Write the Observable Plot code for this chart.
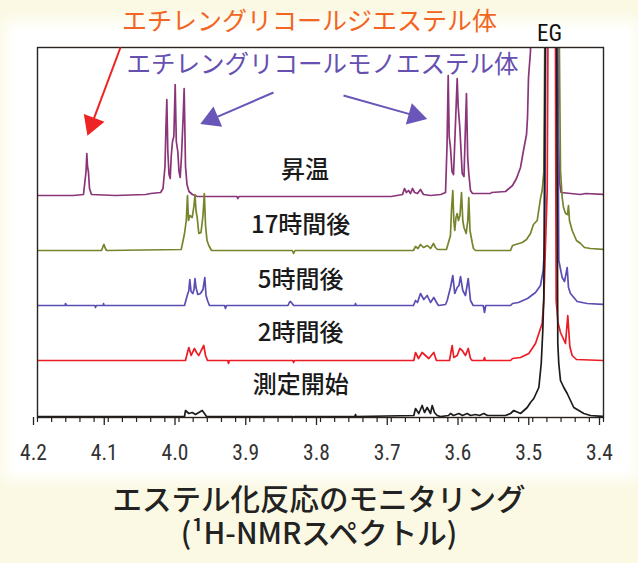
<!DOCTYPE html>
<html>
<head>
<meta charset="utf-8">
<script src="https://cdn.jsdelivr.net/npm/d3@7"></script>
<script src="https://cdn.jsdelivr.net/npm/@observablehq/plot@0.6"></script>
<style>
  html, body { margin: 0; padding: 0; }
  body { width: 638px; height: 563px; background: #fbf9e3; position: relative; overflow: hidden;
         font-family: "Noto Sans CJK JP", sans-serif; }
  #panel { position: absolute; left: 14px; top: 30px; width: 614px; height: 440px; background: #ffffff;
           box-shadow: 0 0 14px 10px #ffffff; }
  #chart { position: absolute; left: 0; top: 0; }
  #title { position: absolute; left: 0; top: 480px; width: 638px; text-align: center; color: #222;
           font-family: "Noto Sans CJK JP", sans-serif; font-weight: 500; font-size: 29.5px;
           line-height: 34px; }
</style>
</head>
<body>
<div id="panel"></div>
<div id="chart"></div>
<div id="title">エステル化反応のモニタリング<br>(¹H-NMRスペクトル)</div>
<script>
// ---------- data (ppm, intensity above each trace's baseline) ----------
const seriesLabels = ["昇温", "17時間後", "5時間後", "2時間後", "測定開始"];

const spectrumHeating = [
  [4.200,1],[4.150,1],[4.135,2],[4.1314,25],[4.1303,43],[4.1293,30],[4.1279,24],[4.1265,8],[4.1237,2],
  [4.090,1],[4.047,2],[4.040,3],[4.026,4],[4.0226,8],[4.0198,30],[4.0184,70],[4.0172,97],[4.0158,45],
  [4.0141,22],[4.0124,18],[4.0110,40],[4.0092,55],[4.0073,60],[4.0054,112],[4.0038,55],[4.0017,45],
  [4.0000,25],[3.9983,19],[3.9965,40],[3.9941,80],[3.9927,108],[3.9908,30],[3.9887,12],[3.9859,5],
  [3.981,2],[3.974,0],[3.918,0],[3.917,-2],[3.915,0],[3.700,0],[3.684,2],[3.6813,8],[3.6785,4],[3.6756,6],
  [3.6728,3],[3.670,8],[3.667,4],[3.663,3],[3.6587,7],[3.6544,2],[3.6445,1],[3.630,2],[3.6233,4],
  [3.6212,50],[3.6195,121],[3.6181,60],[3.6163,49],[3.6141,25],[3.612,22],[3.6099,60],[3.6068,118],
  [3.6054,90],[3.6031,69],[3.5997,23],[3.5972,20],[3.5951,70],[3.5937,103],[3.592,40],[3.5904,23],
  [3.588,6],[3.5852,3],[3.5597,3],[3.5583,4],[3.5385,5],[3.5286,11],[3.523,18],[3.5173,29],[3.5131,46],
  [3.5088,62],[3.5074,79],[3.506,119],[3.5032,145],[3.5011,300],[3.4665,300],[3.465,150],[3.4636,60],
  [3.4622,15],[3.460,4],[3.4325,2],[3.4255,3],[3.400,2]
];

const spectrum17h = [
  [4.200,0],[4.1095,0],[4.1074,4],[4.106,6],[4.1046,3],[4.1025,0],[3.9969,1],[3.9951,7],[3.9922,17],
  [3.9897,30],[3.988,55],[3.9866,30],[3.9847,35],[3.9813,33],[3.9788,45],[3.9774,56],[3.976,40],
  [3.9743,33],[3.972,17],[3.9689,18],[3.9661,35],[3.9642,57],[3.9625,25],[3.9604,10],[3.9579,5],
  [3.954,0],[3.840,0],[3.838,-3],[3.836,0],[3.6686,0],[3.6657,4],[3.6622,2],[3.6587,6],[3.6544,3],
  [3.6488,5],[3.6445,2],[3.6403,7],[3.6375,3],[3.6346,1],[3.622,1],[3.6191,8],[3.6163,15],[3.6149,40],
  [3.613,60],[3.6116,30],[3.6102,20],[3.6085,33],[3.6068,37],[3.605,30],[3.6029,35],[3.6007,58],
  [3.5989,30],[3.5972,23],[3.5941,17],[3.5918,30],[3.5904,53],[3.5887,20],[3.5856,8],[3.5838,2],
  [3.581,0],[3.5314,0],[3.5286,5],[3.5149,8],[3.5088,11],[3.5032,17],[3.499,26],[3.4937,30],
  [3.4891,52],[3.4867,60],[3.4844,78],[3.482,300],[3.4636,300],[3.4608,80],[3.4584,53],[3.4565,43],
  [3.4537,37],[3.4509,36],[3.4495,45],[3.4481,30],[3.4443,20],[3.4382,10],[3.4325,7],[3.4269,3],
  [3.4184,2],[3.400,1]
];

const spectrum5h = [
  [4.200,0],[4.161,0],[4.1604,2],[4.159,0],[4.119,0],[4.118,-2],[4.117,0],[4.107,0],[4.1067,2],[4.106,0],
  [3.9922,0],[3.9884,10],[3.9861,15],[3.9847,26],[3.983,14],[3.9805,12],[3.9788,16],[3.9774,27],
  [3.976,18],[3.9734,11],[3.9696,12],[3.9661,16],[3.9635,28],[3.9618,10],[3.9597,5],[3.9569,0],
  [3.9355,0],[3.9343,-3],[3.933,0],[3.846,0],[3.844,3],[3.8424,4],[3.840,2],[3.838,0],
  [3.7515,0],[3.7505,2],[3.7495,0],[3.6686,0],[3.6657,5],[3.6629,3],[3.6587,12],[3.654,6],[3.6492,10],
  [3.6445,3],[3.6399,8],[3.6351,2],[3.6332,0],[3.6233,1],[3.6209,5],[3.6163,18],[3.613,30],[3.6102,12],
  [3.6068,18],[3.6043,20],[3.6021,29],[3.5989,15],[3.5951,10],[3.5912,27],[3.588,5],[3.5842,0],
  [3.570,0],[3.5682,-7],[3.5665,0],[3.5314,0],[3.5286,2],[3.5202,3],[3.5074,7],[3.4961,13],[3.4891,20],
  [3.4853,35],[3.483,62],[3.4813,300],[3.465,300],[3.4632,45],[3.4584,28],[3.4551,24],[3.4513,38],
  [3.4495,18],[3.4467,12],[3.4372,4],[3.4231,2],[3.400,1]
];

const spectrum2h = [
  [4.200,0],[3.9908,0],[3.9884,7],[3.9861,13],[3.9828,5],[3.9802,9],[3.9781,12],[3.9753,8],[3.972,5],
  [3.9686,10],[3.965,15],[3.9625,5],[3.9597,0],[3.931,0],[3.930,-3],[3.929,0],[3.839,0],[3.838,-2],
  [3.837,0],[3.6681,0],[3.6657,8],[3.6615,2],[3.6563,8],[3.6516,5],[3.6469,2],[3.6399,8],[3.6361,0],
  [3.6177,0],[3.6139,15],[3.6116,3],[3.6068,5],[3.6031,12],[3.5997,10],[3.5951,5],[3.5912,12],[3.588,2],
  [3.5856,0],[3.5695,0],[3.5682,3],[3.567,0],[3.5314,0],[3.5286,2],[3.5173,3],[3.5056,7],[3.4961,17],
  [3.490,30],[3.4867,37],[3.4844,60],[3.4796,170],[3.4785,320],[3.4679,320],[3.4669,60],[3.4644,38],
  [3.4608,28],[3.4537,17],[3.4505,45],[3.4476,14],[3.4443,5],[3.4382,1],[3.400,0]
];

const spectrumStart = [
  [4.200,0],[3.9922,0],[3.9908,6],[3.9861,3],[3.9813,4],[3.9767,2],[3.972,4],[3.9672,6],[3.964,3],
  [3.9611,0],[3.839,0],[3.838,-3],[3.837,0],[3.7515,0],[3.7505,2],[3.7495,0],[3.6681,1],[3.6657,8],
  [3.6611,3],[3.6563,11],[3.653,4],[3.6492,9],[3.6445,3],[3.6421,11],[3.6389,4],[3.6351,1],[3.6304,0],
  [3.6191,1],[3.6163,3],[3.612,1],[3.6045,3],[3.5993,1],[3.5927,3],[3.588,1],[3.5809,2],[3.5753,1],
  [3.5692,3],[3.564,1],[3.5385,1],[3.5314,3],[3.5268,6],[3.5173,3],[3.5078,9],[3.5032,14],[3.4985,18],
  [3.4914,29],[3.488,53],[3.4858,86],[3.4844,119],[3.482,420],[3.4665,420],[3.4646,73],[3.4632,53],
  [3.4608,36],[3.4561,29],[3.4513,23],[3.4467,16],[3.442,9],[3.4349,6],[3.4278,3],[3.4184,1],[3.400,0]
];

const spectra = [spectrumHeating, spectrum17h, spectrum5h, spectrum2h, spectrumStart];
const baselineOffsets = [221, 167, 112, 57, 1];
const seriesColors = ["#8a3579", "#76842c", "#5a4db3", "#ec1c24", "#1c1c1c"];

const tickValues = [4.2, 4.1, 4.0, 3.9, 3.8, 3.7, 3.6, 3.5, 3.4];

// annotation texts
const esterDiLabel = "エチレングリコールジエステル体";
const esterMonoLabel = "エチレングリコールモノエステル体";
const egLabel = "EG";

// ---------- layout ----------
const W = 638, H = 472, mL = 37, mR = 35, mT = 47, mB = 55;
const xDomain = [4.2, 3.4], yDomain = [0, 370];
const kx = (W - mL - mR) / (xDomain[0] - xDomain[1]);
const ky = (H - mT - mB) / (yDomain[1] - yDomain[0]);

// label anchor positions (data coordinates)
const seriesLabelPos = [[3.822, 247], [3.828, 192], [3.828, 137], [3.828, 84], [3.828, 32]];
const arrowsRed = [{x1: 4.0827, y1: 370, x2: 4.1293, y2: 282}];
const arrowsPurple = [
  {x1: 3.8664, y1: 325, x2: 3.9696, y2: 293.5},
  {x1: 3.7675, y1: 322, x2: 3.6495, y2: 298.5}
];

function withHead(a) {
  const dx = -(a.x2 - a.x1) * kx, dy = -(a.y2 - a.y1) * ky;
  const len = Math.hypot(dx, dy), ux = dx / len, uy = dy / len;
  const back = 12.5;
  return {...a, cx: a.x2 + ux * back / kx, cy: a.y2 + uy * back / ky,
          angle: Math.atan2(ux, -uy) * 180 / Math.PI};
}
const redA = arrowsRed.map(withHead), purA = arrowsPurple.map(withHead);

const minorTicks = d3.range(0, 41).map(i => +(3.4 + i * 0.02).toFixed(2));

const traceMarks = spectra.map((s, i) =>
  Plot.line(s, {x: d => d[0], y: d => d[1] + baselineOffsets[i], stroke: seriesColors[i],
                strokeWidth: 1.7, clip: true, curve: "linear"}));

const labelRows = seriesLabels.map((t, i) => ({t, x: seriesLabelPos[i][0], y: seriesLabelPos[i][1]}));

const jp = "Noto Sans CJK JP, sans-serif";
const narrow = "'Liberation Sans Narrow', 'Arial Narrow', 'Roboto Condensed', sans-serif";

const plot = Plot.plot({
  width: W, height: H,
  marginLeft: mL, marginRight: mR, marginTop: mT, marginBottom: mB,
  style: {background: "transparent", overflow: "visible"},
  x: {domain: xDomain, axis: null},
  y: {domain: yDomain, axis: null},
  marks: [
    ...traceMarks,
    Plot.frame({stroke: "#2a2420", strokeWidth: 1.4}),
    Plot.axisX({ticks: minorTicks, tickSize: 5, tickFormat: () => "", stroke: "#222", strokeWidth: 1.2}),
    Plot.axisX({ticks: tickValues, tickSize: 8, tickPadding: 19, tickFormat: d => d.toFixed(1),
                fontSize: 21.5, fontFamily: narrow, fill: "#333", stroke: "#222", strokeWidth: 1.3, dx: -4}),
    Plot.text(labelRows, {x: "x", y: "y", text: "t", fontSize: 24, fontFamily: jp, fontWeight: 500, fill: "#1a1a1a"}),
    Plot.text([esterDiLabel], {x: 3.8156, y: 396, text: d => d, fontSize: 25, fontFamily: jp, fill: "#f26522"}),
    Plot.text([esterMonoLabel], {x: 3.7972, y: 352, text: d => d, fontSize: 24.5, fontFamily: jp, fill: "#6650b0"}),
    Plot.text([egLabel], {x: 3.4763, y: 384, text: d => d, fontSize: 23, fontFamily: narrow, fill: "#111"}),
    Plot.link(redA, {x1: "x1", y1: "y1", x2: "cx", y2: "cy", stroke: "#ee2424", strokeWidth: 2}),
    Plot.dot(redA, {x: "cx", y: "cy", symbol: "triangle", r: 8.2, fill: "#ee2424", stroke: "none", rotate: "angle"}),
    Plot.link(purA, {x1: "x1", y1: "y1", x2: "cx", y2: "cy", stroke: "#6a55b8", strokeWidth: 2}),
    Plot.dot(purA, {x: "cx", y: "cy", symbol: "triangle", r: 8.2, fill: "#6a55b8", stroke: "none", rotate: "angle"})
  ]
});
document.getElementById("chart").appendChild(plot);
</script>
</body>
</html>
